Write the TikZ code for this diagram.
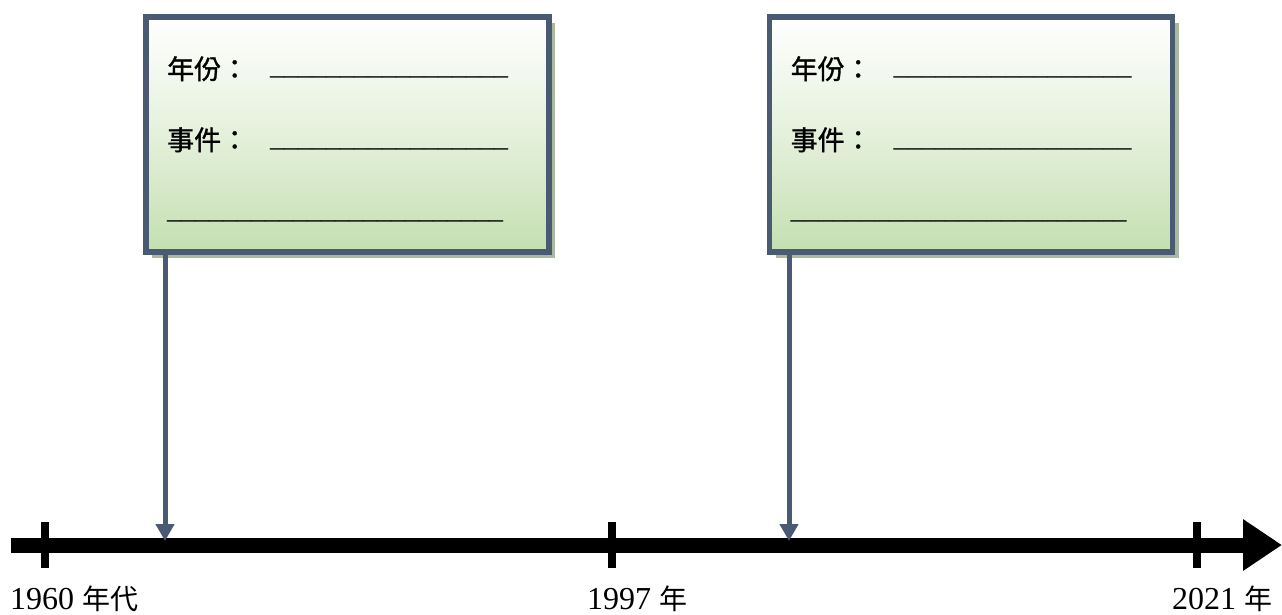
\documentclass[tikz,border=0pt]{standalone}
\usepackage{fontspec}
\setmainfont{Liberation Serif}
\newfontfamily\cjk{Noto Sans CJK TC}
\newfontfamily\cjkbox{Noto Sans CJK TC}[FakeBold=1.2]
\usetikzlibrary{arrows.meta,shadows}
\definecolor{frame}{RGB}{74,90,115}
\definecolor{boxgreen}{RGB}{196,223,176}
\definecolor{shadowc}{RGB}{170,184,155}
\tikzset{
  eventbox/.style={draw=frame, line width=5.5pt, rectangle, inner sep=0pt,
    minimum width=403pt, minimum height=235pt,
    top color=white, bottom color=boxgreen, middle color=boxgreen!45,
    drop shadow={shadow xshift=6pt, shadow yshift=-6pt, fill=shadowc, opacity=1}},
  boxtext/.style={anchor=base west, inner sep=0pt, font=\cjkbox\fontsize{27}{27}\selectfont},
  blank/.style={anchor=base west, inner sep=0pt, font=\fontsize{28}{28}\selectfont},
  stem/.style={draw=frame, line width=5pt, -{Triangle[length=17pt,width=18pt]}},
  axis/.style={line width=15pt, -{Triangle[length=39pt,width=49pt]}},
  tick/.style={line width=8pt},
  datelabel/.style={anchor=base west, inner sep=0pt, font=\fontsize{32}{32}\selectfont}
}
\newcommand{\cjklab}[1]{{\cjk\fontsize{28}{28}\selectfont #1}}
\begin{document}
\begin{tikzpicture}[x=1pt,y=-1pt]
\useasboundingbox (0,0) rectangle (1282,614);
% axis
\coordinate (a0) at (11,545);
\coordinate (a1) at (1282,545);
\draw[axis] (a0) -- (a1);
\foreach \n/\x in {t1/45, t2/612, t3/1197} {
  \coordinate (\n top) at (\x,522);
  \coordinate (\n bot) at (\x,568);
  \draw[tick] (\n top) -- (\n bot);
}
\node[datelabel] (l1) at (10,609) {1960 \cjklab{年代}};
\node[datelabel] (l2) at (587,609) {1997 \cjklab{年}};
\node[datelabel] (l3) at (1172,609) {2021 \cjklab{年}};
% boxes
\foreach \b/\dx in {b1/0, b2/623.5} {
  \node[eventbox] (\b) at (347.5+\dx,134.5) {};
  \node[boxtext] (\b y) at (167+\dx,79) {年份：};
  \node[blank] (\b u1) at (270+\dx,74) {\_\_\_\_\_\_\_\_\_\_\_\_\_\_\_\_\_};
  \node[boxtext] (\b e) at (167+\dx,150) {事件：};
  \node[blank] (\b u2) at (270+\dx,146) {\_\_\_\_\_\_\_\_\_\_\_\_\_\_\_\_\_};
  \node[blank] (\b u3) at (167+\dx,218) {\_\_\_\_\_\_\_\_\_\_\_\_\_\_\_\_\_\_\_\_\_\_\_\_};
}
\coordinate (p1) at (165,541);
\coordinate (p2) at (789,541);
\draw[stem] (b1.south -| p1) -- (p1);
\draw[stem] (b2.south -| p2) -- (p2);
\end{tikzpicture}
\end{document}
